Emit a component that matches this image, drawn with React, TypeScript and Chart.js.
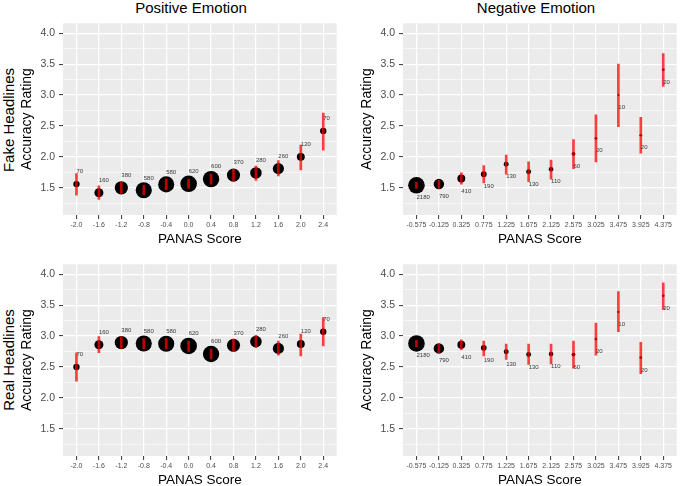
import React, { useEffect, useRef } from "react";
import { Chart, registerables } from "chart.js";

Chart.register(...registerables);

// PANAS score bins (x categories)
const positiveScores = ["-2.0", "-1.6", "-1.2", "-0.8", "-0.4", "0.0", "0.4", "0.8", "1.2", "1.6", "2.0", "2.4"];
const negativeScores = ["-0.575", "-0.125", "0.325", "0.775", "1.225", "1.675", "2.125", "2.575", "3.025", "3.475", "3.925", "4.375"];

// number of ratings per bin
const positiveCounts = [70, 160, 380, 580, 580, 620, 600, 370, 280, 260, 120, 70];
const negativeCounts = [2180, 790, 410, 190, 130, 130, 110, 60, 20, 10, 20, 20];

// Fake headlines, positive emotion
const fakePosMean = [1.56, 1.42, 1.5, 1.46, 1.555, 1.565, 1.64, 1.705, 1.74, 1.81, 2.0, 2.42];
const fakePosLow = [1.38, 1.31, 1.41, 1.39, 1.47, 1.49, 1.56, 1.61, 1.62, 1.69, 1.79, 2.11];
const fakePosHigh = [1.73, 1.53, 1.59, 1.54, 1.64, 1.64, 1.72, 1.8, 1.85, 1.94, 2.19, 2.71];

// Fake headlines, negative emotion
const fakeNegMean = [1.54, 1.56, 1.65, 1.72, 1.88, 1.76, 1.8, 2.05, 2.3, 3.0, 2.35, 3.41];
const fakeNegLow = [1.49, 1.49, 1.56, 1.58, 1.72, 1.6, 1.64, 1.81, 1.92, 2.49, 2.06, 3.14];
const fakeNegHigh = [1.59, 1.62, 1.74, 1.86, 2.03, 1.92, 1.95, 2.28, 2.68, 3.5, 2.64, 3.67];

// Real headlines, positive emotion
const realPosMean = [2.5, 2.86, 2.895, 2.88, 2.875, 2.84, 2.71, 2.85, 2.91, 2.8, 2.87, 3.07];
const realPosLow = [2.27, 2.73, 2.8, 2.79, 2.79, 2.75, 2.63, 2.75, 2.81, 2.69, 2.68, 2.84];
const realPosHigh = [2.73, 2.99, 2.99, 2.96, 2.96, 2.92, 2.79, 2.95, 3.01, 2.92, 3.03, 3.3];

// Real headlines, negative emotion
const realNegMean = [2.88, 2.8, 2.86, 2.81, 2.745, 2.7, 2.71, 2.7, 2.95, 3.39, 2.65, 3.65];
const realNegLow = [2.83, 2.73, 2.78, 2.68, 2.62, 2.54, 2.55, 2.48, 2.69, 3.07, 2.39, 3.43];
const realNegHigh = [2.93, 2.87, 2.94, 2.92, 2.87, 2.87, 2.87, 2.92, 3.21, 3.72, 2.9, 3.86];

const yTicks = [1.25, 1.5, 1.75, 2.0, 2.25, 2.5, 2.75, 3.0, 3.25, 3.5, 3.75, 4.0];

const FONT = "'Liberation Sans', Arial, Helvetica, sans-serif";
const PANEL_BG = "#EBEBEB";
const BAR_RED = "rgba(255, 0, 0, 0.75)";

const isMajor = (v: number) => Math.abs(v * 2 - Math.round(v * 2)) < 1e-9;

interface PanelProps {
  labels: string[];
  means: number[];
  lows: number[];
  highs: number[];
  counts: number[];
  labelShift: number; // where the count label sits, in rating units
  left: number;
  top: number;
}

const Panel: React.FC<PanelProps> = ({ labels, means, lows, highs, counts, labelShift, left, top }) => {
  const canvasRef = useRef<HTMLCanvasElement>(null);

  useEffect(() => {
    if (!canvasRef.current) return;
    const maxCount = Math.max(...counts);
    const radius = (n: number) => 0.6 + 7.7 * Math.sqrt(n / maxCount);

    const panelBackground = {
      id: "panelBackground",
      beforeDraw(chart: Chart) {
        const { ctx, chartArea } = chart;
        ctx.save();
        ctx.fillStyle = PANEL_BG;
        ctx.fillRect(chartArea.left, chartArea.top, chartArea.right - chartArea.left, chartArea.bottom - chartArea.top);
        ctx.restore();
      },
    };

    const countLabels = {
      id: "countLabels",
      afterDatasetsDraw(chart: Chart) {
        const { ctx, scales } = chart;
        ctx.save();
        ctx.font = `6px ${FONT}`;
        ctx.fillStyle = "#3a3a3a";
        ctx.textAlign = "left";
        ctx.textBaseline = "middle";
        counts.forEach((n, i) => {
          const x = scales.x.getPixelForValue(i);
          const y = scales.y.getPixelForValue(means[i] + labelShift);
          ctx.fillText(String(n), x, y);
        });
        ctx.restore();
      },
    };

    const chart = new Chart(canvasRef.current, {
      type: "bar",
      data: {
        datasets: [
          {
            type: "bar",
            data: labels.map((_, i) => ({ x: i, y: [lows[i], highs[i]] })) as any,
            backgroundColor: BAR_RED,
            borderWidth: 0,
            barThickness: 2,
            grouped: false,
            order: 0,
          },
          {
            type: "scatter",
            data: labels.map((_, i) => ({ x: i, y: means[i] })),
            pointRadius: counts.map((n) => radius(n)),
            pointBackgroundColor: "#000",
            pointBorderWidth: 0,
            order: 1,
          } as any,
        ],
      },
      options: {
        animation: false,
        responsive: true,
        maintainAspectRatio: false,
        events: [],
        layout: { padding: { top: 10, right: 1, left: 0, bottom: 0 } },
        plugins: { legend: { display: false }, tooltip: { enabled: false } },
        scales: {
          x: {
            type: "linear",
            min: -0.6,
            max: labels.length - 0.4,
            offset: false,
            afterBuildTicks: (axis: any) => {
              axis.ticks = labels.map((_, i) => ({ value: i }));
            },
            afterFit: (axis: any) => {
              axis.height = 32;
            },
            border: { display: false },
            grid: {
              offset: false,
              color: "#FFFFFF",
              lineWidth: 1.2,
              tickColor: "#333333",
              tickLength: 4,
              tickWidth: 1,
            },
            ticks: {
              autoSkip: false,
              maxRotation: 0,
              padding: 2,
              color: "#4D4D4D",
              font: { family: FONT, size: 7 },
              callback: (v: any) => labels[Math.round(Number(v))] ?? "",
            },
            title: {
              display: true,
              text: "PANAS Score",
              color: "#000",
              padding: 0,
              font: { family: FONT, size: 13.5 },
            },
          },
          y: {
            type: "linear",
            min: 1.06,
            max: 4.16,
            afterBuildTicks: (axis: any) => {
              axis.ticks = yTicks.map((value) => ({ value }));
            },
            afterFit: (axis: any) => {
              axis.width = 44;
            },
            border: { display: false },
            grid: {
              color: "#FFFFFF",
              lineWidth: (ctx: any) => (isMajor(ctx.tick.value) ? 1.2 : 0.6),
              tickColor: (ctx: any) => (isMajor(ctx.tick.value) ? "#333333" : "rgba(0,0,0,0)"),
              tickLength: 4,
              tickWidth: 1,
            },
            ticks: {
              autoSkip: false,
              padding: 4,
              color: "#4D4D4D",
              font: { family: FONT, size: 10.5 },
              callback: (v: any) => (isMajor(Number(v)) ? Number(v).toFixed(1) : ""),
            },
            title: {
              display: true,
              text: "Accuracy Rating",
              color: "#000",
              padding: 0,
              font: { family: FONT, size: 14 },
            },
          },
        },
      } as any,
      plugins: [panelBackground, countLabels],
    });

    return () => {
      chart.destroy();
    };
  }, [labels, means, lows, highs, counts, labelShift]);

  return (
    <div style={{ position: "absolute", left, top, width: 326, height: 234 }}>
      <canvas ref={canvasRef} />
    </div>
  );
};

const textStyle: React.CSSProperties = {
  position: "absolute",
  fontFamily: FONT,
  fontSize: 15,
  lineHeight: "15px",
  whiteSpace: "nowrap",
  color: "#000",
};

const App: React.FC = () => {
  return (
    <div
      style={{
        position: "absolute",
        left: 0,
        top: 0,
        width: 685,
        height: 486,
        overflow: "hidden",
        background: "#fff",
      }}
    >
      <div style={{ ...textStyle, left: 191, top: 7, transform: "translate(-50%, -50%)" }}>Positive Emotion</div>
      <div style={{ ...textStyle, left: 536, top: 7, transform: "translate(-50%, -50%)" }}>Negative Emotion</div>
      <div style={{ ...textStyle, left: 7.5, top: 120, transform: "translate(-50%, -50%) rotate(-90deg)" }}>
        Fake Headlines
      </div>
      <div style={{ ...textStyle, left: 7.5, top: 360, transform: "translate(-50%, -50%) rotate(-90deg)" }}>
        Real Headlines
      </div>

      <Panel labels={positiveScores} means={fakePosMean} lows={fakePosLow} highs={fakePosHigh}
        counts={positiveCounts} labelShift={0.2} left={19} top={13} />
      <Panel labels={negativeScores} means={fakeNegMean} lows={fakeNegLow} highs={fakeNegHigh}
        counts={negativeCounts} labelShift={-0.2} left={359} top={13} />
      <Panel labels={positiveScores} means={realPosMean} lows={realPosLow} highs={realPosHigh}
        counts={positiveCounts} labelShift={0.2} left={19} top={254} />
      <Panel labels={negativeScores} means={realNegMean} lows={realNegLow} highs={realNegHigh}
        counts={negativeCounts} labelShift={-0.2} left={359} top={254} />
    </div>
  );
};

export default App;
